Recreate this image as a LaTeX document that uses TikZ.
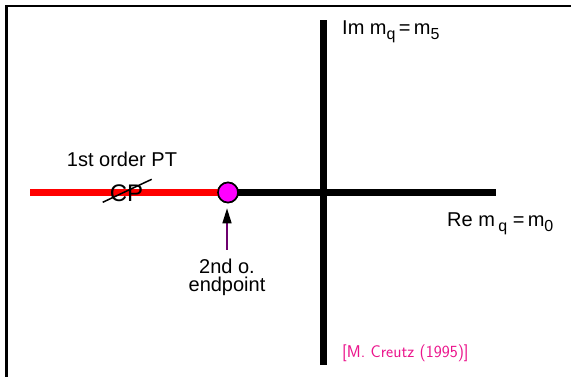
\documentclass[tikz,border=0pt]{standalone}
\usepackage{fontspec}
\setmainfont{Liberation Sans}
\usepackage{tikz}
\usetikzlibrary{positioning,arrows.meta}
\definecolor{refpink}{RGB}{235,20,140}
\definecolor{ptred}{RGB}{255,0,0}
\definecolor{dotmagenta}{RGB}{255,0,255}
\definecolor{arrowpurple}{RGB}{110,0,110}
\newcommand{\lowsub}[1]{\raisebox{-4.5pt}{\fontsize{16}{16}\selectfont #1}}
\tikzset{
  axisline/.style={line width=7pt, black},
  ptline/.style={line width=7pt, ptred},
  framebar/.style={line width=2.6pt, black},
  endnode/.style={circle, draw, line width=1.6pt, fill=dotmagenta, minimum size=20pt, inner sep=0pt},
  labeltext/.style={font=\fontsize{20}{22}\selectfont, inner sep=0pt, align=center},
  reftext/.style={font=\sffamily\fontsize{17}{18}\selectfont, text=refpink, inner sep=0pt},
  pointarrow/.style={-{Triangle[length=15pt, width=9pt, black]}, line width=1.5pt, arrowpurple}
}
\begin{document}
\begin{tikzpicture}[x=1pt, y=-1pt]
  \useasboundingbox (0,0) rectangle (571,377);
  % frame
  \draw[framebar] (6.5,377) -- (6.5,6.2) -- (571,6.2);
  % axes
  \coordinate (reL) at (30,192.5);
  \coordinate (reR) at (496,192.5);
  \coordinate (imT) at (323.4,20.5);
  \coordinate (imB) at (323.4,364.5);
  \node[endnode] (ep) at (228,192.5) {};
  \draw[ptline] (reL) -- (ep.center);
  \draw[axisline] (ep.center) -- (reR);
  \draw[axisline] (imT) -- (imB);
  \node[endnode] at (ep) {};
  % labels
  \node[labeltext] (pt) at (122,159) {1st order PT};
  \node[labeltext, font=\fontsize{24}{26}\selectfont] (cp) at (126.5,193) {CP};
  \draw[line width=1.5pt] (102.7,202.3) -- (151.7,179.3);
  \node[labeltext] (second) at (227,266) {2nd o.};
  \node[labeltext, below=3pt of second] (endp) {endpoint};
  \coordinate (arrtail) at (227,250);
  \draw[pointarrow] (arrtail) -- ([yshift=-5pt]ep.south -| arrtail);
  \node[labeltext, anchor=west] (imlab) at (342,32) {Im m\lowsub{q}\,=\,m\lowsub{5}};
  \node[labeltext, anchor=west] (relab) at (447,224) {Re m\,\lowsub{q}\;=\,m\lowsub{0}};
  \node[reftext, anchor=west] (cite) at (342,353) {[M. Creutz (1995)]};
\end{tikzpicture}
\end{document}
